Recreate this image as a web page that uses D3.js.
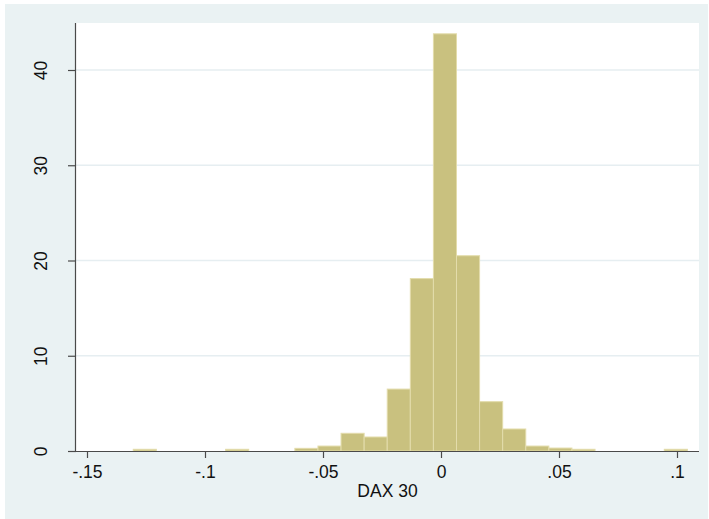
<!DOCTYPE html>
<html>
<head>
<meta charset="utf-8">
<script src="https://cdn.jsdelivr.net/npm/d3@7"></script>
<style>
  body { margin: 0; background: #ffffff; }
  svg { display: block; font-family: "Liberation Sans", Arial, sans-serif; }
</style>
</head>
<body>
<div id="chart"></div>
<script>
// Histogram of DAX 30 returns: 24 bins from min to max
const binStart = -0.1304;
const binEnd   = 0.1044;
const density  = [0.18, 0, 0, 0, 0.18, 0, 0, 0.28, 0.52, 1.86, 1.47, 6.5,
                  18.1, 43.8, 20.5, 5.18, 2.31, 0.52, 0.31, 0.18, 0, 0, 0, 0.18];
const xTicks   = [-0.15, -0.1, -0.05, 0, 0.05, 0.1];
const xTickLabels = ["-.15", "-.1", "-.05", "0", ".05", ".1"];
const yTicks   = [0, 10, 20, 30, 40];
const xTitle   = "DAX 30";

const config = {
  width   : 709,
  height  : 519,
  plot    : { left: 76, right: 699, top: 23, bottom: 451 },
  bg      : "#eaf2f3",
  grid    : "#e6eef1",
  barFill : "#c9c17f",
  barLine : "#e3dcab",
  axis    : "#4a4a4a",
  font    : 17.5
};

const binWidth = (binEnd - binStart) / density.length;
const bins = density.map((d, i) => ({
  x0: binStart + i * binWidth,
  x1: binStart + (i + 1) * binWidth,
  value: d
}));

const svg = d3.select("#chart")
  .append("svg")
    .attr("width", config.width)
    .attr("height", config.height);

// outer background
svg.append("rect")
  .attr("x", 5).attr("y", 4)
  .attr("width", 703).attr("height", 515)
  .attr("fill", config.bg);

// plot region
svg.append("rect")
  .attr("x", config.plot.left).attr("y", config.plot.top)
  .attr("width", config.plot.right - config.plot.left)
  .attr("height", config.plot.bottom - config.plot.top)
  .attr("fill", "white");

// scales
const x = d3.scaleLinear()
  .domain([0, 0.05])
  .range([441, 559]);

const y = d3.scaleLinear()
  .domain([0, 40])
  .range([config.plot.bottom, 70]);

// gridlines
svg.append("g")
  .selectAll("line")
  .data(yTicks.filter(d => d > 0))
  .enter()
    .append("line")
    .attr("x1", config.plot.left)
    .attr("x2", config.plot.right)
    .attr("y1", d => y(d))
    .attr("y2", d => y(d))
    .style("stroke", config.grid)
    .style("stroke-width", "1.5px");

// bars
svg.append("g")
  .selectAll("rect")
  .data(bins.filter(d => d.value > 0))
  .enter()
    .append("rect")
    .attr("x", d => x(d.x0))
    .attr("width", d => x(d.x1) - x(d.x0))
    .attr("y", d => y(d.value))
    .attr("height", d => y(0) - y(d.value))
    .attr("fill", config.barFill)
    .style("stroke", config.barLine)
    .style("stroke-width", "1px");

// x axis
const xAxis = svg.append("g")
  .attr("transform", "translate(0," + config.plot.bottom + ")")
  .call(d3.axisBottom(x)
    .tickValues(xTicks)
    .tickFormat((d, i) => xTickLabels[i])
    .tickSize(7)
    .tickPadding(8)
    .tickSizeOuter(0));

xAxis.select(".domain")
  .attr("d", "M" + config.plot.left + ",0.5H" + config.plot.right)
  .style("stroke", config.axis)
  .style("stroke-width", "1.2px");

// y axis
const yAxis = svg.append("g")
  .attr("transform", "translate(" + config.plot.left + ",0)")
  .call(d3.axisLeft(y)
    .tickValues(yTicks)
    .tickFormat(d3.format("d"))
    .tickSize(8)
    .tickSizeOuter(0));

yAxis.select(".domain")
  .attr("d", "M-0.5," + config.plot.top + "V" + config.plot.bottom)
  .style("stroke", config.axis)
  .style("stroke-width", "1.2px");

svg.selectAll(".tick line")
  .style("stroke", config.axis)
  .style("stroke-width", "1.2px");

svg.selectAll(".tick text")
  .attr("fill", "#111")
  .style("font-size", config.font + "px")
  .style("font-family", "Liberation Sans, Arial, sans-serif");

// rotate y tick labels like Stata
yAxis.selectAll(".tick text")
  .attr("x", null)
  .attr("text-anchor", "middle")
  .attr("transform", "translate(-35,0) rotate(-90)")
  .attr("y", 0)
  .attr("dy", "0.35em");

// x title
svg.append("text")
  .attr("x", (config.plot.left + config.plot.right) / 2)
  .attr("y", 497)
  .attr("text-anchor", "middle")
  .attr("fill", "#111")
  .style("font-size", config.font + "px")
  .text(xTitle);
</script>
</body>
</html>
